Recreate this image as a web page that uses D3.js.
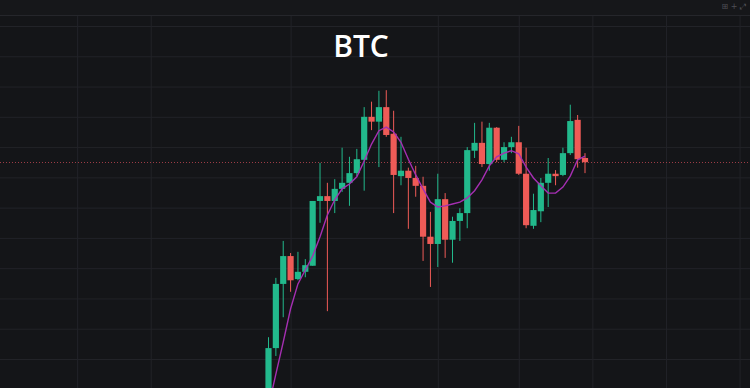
<!DOCTYPE html>
<html>
<head>
<meta charset="utf-8">
<script src="https://cdn.jsdelivr.net/npm/d3@7"></script>
<style>
  html, body { margin: 0; padding: 0; background: #141518; }
  svg { display: block; }
</style>
</head>
<body>
<div id="chart"></div>
<script>
(function () {
  'use strict';

  // ── Data ──────────────────────────────────────────────────────────────────
  const OPEN  = [63160, 64180, 65240, 65700, 65320, 65440, 65540, 66610, 66690, 66610,
                 66810, 66910, 67070, 67290, 68000, 67920, 68160, 67720, 67020, 67110,
                 66990, 66860, 66020, 65900, 66640, 65970, 66280, 66410, 67440, 67570,
                 67220, 67820, 67290, 67500, 67580, 67060, 66200, 66440, 66910, 67060,
                 67040, 67400, 67950, 67320];
  const HIGH  = [64360, 65340, 65950, 65750, 65770, 65650, 66610, 67240, 66910, 66970,
                 67490, 67340, 67470, 68160, 68250, 68430, 68440, 68100, 67670, 67160,
                 67190, 67010, 66430, 67060, 66740, 66350, 66490, 67500, 67900, 67920,
                 67900, 67830, 67580, 67670, 67850, 67490, 66730, 66990, 67320, 67120,
                 67490, 68200, 68030, 67400];
  const LOW   = [63080, 64050, 64690, 65110, 65300, 65350, 65540, 66250, 64790, 66410,
                 66760, 66530, 67020, 66780, 67780, 67170, 67670, 66410, 66870, 66150,
                 66680, 65620, 65190, 65520, 65670, 65590, 65950, 66160, 67320, 67170,
                 67110, 67250, 67250, 67400, 67040, 66160, 66150, 66260, 66510, 66870,
                 67020, 67370, 67160, 67070];
  const CLOSE = [64180, 65240, 65700, 65300, 65440, 65550, 66610, 66690, 66610, 66810,
                 66910, 67070, 67300, 68000, 67920, 68160, 67700, 67040, 67110, 66990,
                 66860, 66020, 65900, 66640, 65970, 66280, 66410, 67450, 67570, 67220,
                 67820, 67290, 67500, 67580, 67060, 66210, 66460, 66910, 67060, 67020,
                 67400, 67930, 67300, 67250];
  const MA    = [63210, 63750, 64280, 64830, 65240, 65470, 65700, 66020, 66380, 66630,
                 66810, 66890, 67010, 67270, 67550, 67770, 67830, 67750, 67580, 67300,
                 67040, 66810, 66590, 66510, 66530, 66560, 66590, 66660, 66780, 66960,
                 67190, 67340, 67400, 67440, 67390, 67170, 66990, 66860, 66740, 66740,
                 66840, 67020, 67290, 67350];

  // grid positions: price levels and bar indices where the time grid falls
  const PRICE_TICKS = [64000, 64500, 65000, 65500, 66000, 66500, 67000, 67500, 68000, 68500, 69000, 69500];
  const TIME_TICKS  = [-26, -16, 3, 23, 34, 44, 54, 64];
  const TITLE = 'BTC';

  const UP   = '#22b98c';
  const DOWN = '#ef5b57';
  const MA_COLOR = '#a52fb2';

  // ── Layout ────────────────────────────────────────────────────────────────
  const width = 750;
  const height = 388;
  const paneTop = 15;

  const svg = d3.select('#chart')
    .append('svg')
    .attr('width', width)
    .attr('height', height)
    .attr('viewBox', `0 0 ${width} ${height}`);

  svg.append('rect').attr('width', width).attr('height', height).attr('fill', '#141518');
  svg.append('rect').attr('width', width).attr('height', paneTop).attr('fill', '#16171a');

  svg.append('clipPath').attr('id', 'pane')
    .append('rect').attr('x', 0).attr('y', paneTop)
    .attr('width', width).attr('height', height - paneTop);

  const idx = d3.range(OPEN.length);
  const bars = idx.map(i => ({ i, o: OPEN[i], h: HIGH[i], l: LOW[i], c: CLOSE[i], ma: MA[i] }));

  const x = d3.scaleLinear()
    .domain([0, OPEN.length - 1])
    .range([268.5, 585]);
  const step = x(1) - x(0);
  const bodyW = step * 0.84;

  const y = d3.scaleLinear()
    .domain([64000, 69500])
    .range([359, 26]);

  const g = svg.append('g').attr('clip-path', 'url(#pane)');

  // ── Grid ──────────────────────────────────────────────────────────────────
  g.append('g')
    .call(d3.axisLeft(y).tickValues(PRICE_TICKS).tickSize(-width).tickFormat(''))
    .call(ax => ax.select('.domain').remove())
    .call(ax => ax.selectAll('.tick line').attr('stroke', '#222328').attr('stroke-width', 1));

  g.append('g')
    .attr('transform', `translate(0,${height})`)
    .call(d3.axisBottom(x).tickValues(TIME_TICKS).tickSize(-(height - paneTop)).tickFormat(''))
    .call(ax => ax.select('.domain').remove())
    .call(ax => ax.selectAll('.tick line').attr('stroke', '#222328').attr('stroke-width', 1));

  svg.append('line')
    .attr('x1', 0).attr('x2', width)
    .attr('y1', paneTop + 0.5).attr('y2', paneTop + 0.5)
    .attr('stroke', '#25262b');

  // last price line (dotted)
  const last = CLOSE[CLOSE.length - 1];
  g.append('line')
    .attr('x1', 0).attr('x2', width)
    .attr('y1', Math.round(y(last)) + 0.5).attr('y2', Math.round(y(last)) + 0.5)
    .attr('stroke', '#c94a55')
    .attr('stroke-opacity', 0.75)
    .attr('stroke-dasharray', '1,2');

  // ── Candles ───────────────────────────────────────────────────────────────
  const color = d => d.c >= d.o ? UP : DOWN;

  g.selectAll('.wick')
    .data(bars)
    .enter()
    .append('line')
    .attr('class', 'wick')
    .attr('x1', d => x(d.i))
    .attr('x2', d => x(d.i))
    .attr('y1', d => y(d.h))
    .attr('y2', d => y(d.l))
    .attr('stroke', color)
    .attr('stroke-width', 1);

  g.selectAll('.body')
    .data(bars)
    .enter()
    .append('rect')
    .attr('class', 'body')
    .attr('x', d => x(d.i) - bodyW / 2)
    .attr('y', d => y(Math.max(d.o, d.c)))
    .attr('width', bodyW)
    .attr('height', d => Math.max(1, Math.abs(y(d.o) - y(d.c))))
    .attr('fill', color);

  // ── Moving average ────────────────────────────────────────────────────────
  const line = d3.line()
    .x(d => x(d.i))
    .y(d => y(d.ma));

  g.append('path')
    .datum(bars)
    .attr('fill', 'none')
    .attr('stroke', MA_COLOR)
    .attr('stroke-width', 1.4)
    .attr('d', line);

  // ── Title + toolbar hint ──────────────────────────────────────────────────
  svg.append('text')
    .attr('x', 361)
    .attr('y', 57)
    .attr('text-anchor', 'middle')
    .attr('font-family', '"Open Sans", "Noto Sans", sans-serif')
    .attr('font-size', 30)
    .attr('font-weight', 600)
    .attr('fill', '#ffffff')
    .text(TITLE);

  svg.append('text')
    .attr('x', 746)
    .attr('y', 9)
    .attr('text-anchor', 'end')
    .attr('font-family', '"DejaVu Sans", sans-serif')
    .attr('font-size', 8)
    .attr('fill', '#4e5056')
    .text('⊞ + ⤢');
})();
</script>
</body>
</html>
